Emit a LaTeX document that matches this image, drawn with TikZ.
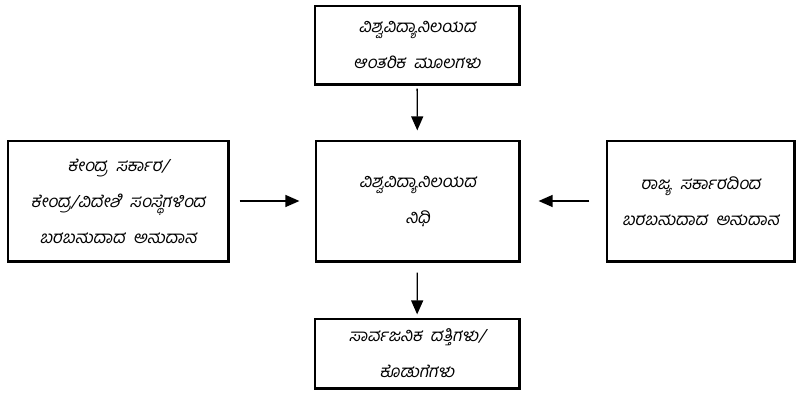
\documentclass[tikz,border=0pt]{standalone}
\usepackage{fontspec}
\usetikzlibrary{arrows.meta}
\newfontfamily\kannada[Script=Kannada,FakeSlant=0.2,WordSpace=2]{Hind Mysuru}

\tikzset{
  fundbox/.style={draw,line width=1.2pt,align=center,inner sep=0pt,
    font=\kannada\fontsize{17}{36}\selectfont},
  fundarrow/.style={line width=1.3pt,-{Triangle[width=12pt,length=14pt]}}
}

\begin{document}
\begin{tikzpicture}[x=1pt,y=1pt]
\useasboundingbox (0,0) rectangle (796,396);
% boxes
\node[fundbox,minimum width=204,minimum height=78] (inner) at (417,351) {ವಿಶ್ವವಿದ್ಯಾನಿಲಯದ\\ಆಂತರಿಕ ಮೂಲಗಳು};
\node[fundbox,minimum width=203,minimum height=120] (fund) at (417.5,195) {ವಿಶ್ವವಿದ್ಯಾನಿಲಯದ\\ನಿಧಿ};
\node[fundbox,minimum width=220,minimum height=120] (central) at (118,195) {ಕೇಂದ್ರ ಸರ್ಕಾರ/\\ಕೇಂದ್ರ/ವಿದೇಶಿ ಸಂಸ್ಥೆಗಳಿಂದ\\ಬರಬಹುದಾದ ಅನುದಾನ};
\node[fundbox,minimum width=187,minimum height=120] (state) at (700.5,195) {ರಾಜ್ಯ ಸರ್ಕಾರದಿಂದ\\ಬರಬಹುದಾದ ಅನುದಾನ};
\node[fundbox,minimum width=204,minimum height=69] (grants) at (417,42.5) {ಸಾರ್ವಜನಿಕ ದತ್ತಿಗಳು/\\ಕೊಡುಗೆಗಳು};
% heavy bottom and right edges
\foreach \b in {inner,fund,central,state,grants}
  \draw[line width=3pt] (\b.south west) -- (\b.south east) -- (\b.north east);
% arrows
\draw[fundarrow,shorten <=4pt,shorten >=10pt] (inner) -- (fund);
\draw[fundarrow,shorten <=11pt,shorten >=16pt] (central) -- (fund);
\draw[fundarrow,shorten <=17pt,shorten >=19pt] (state) -- (fund);
\draw[fundarrow,shorten <=11pt,shorten >=4pt] (fund) -- (grants);
\end{tikzpicture}
\end{document}
